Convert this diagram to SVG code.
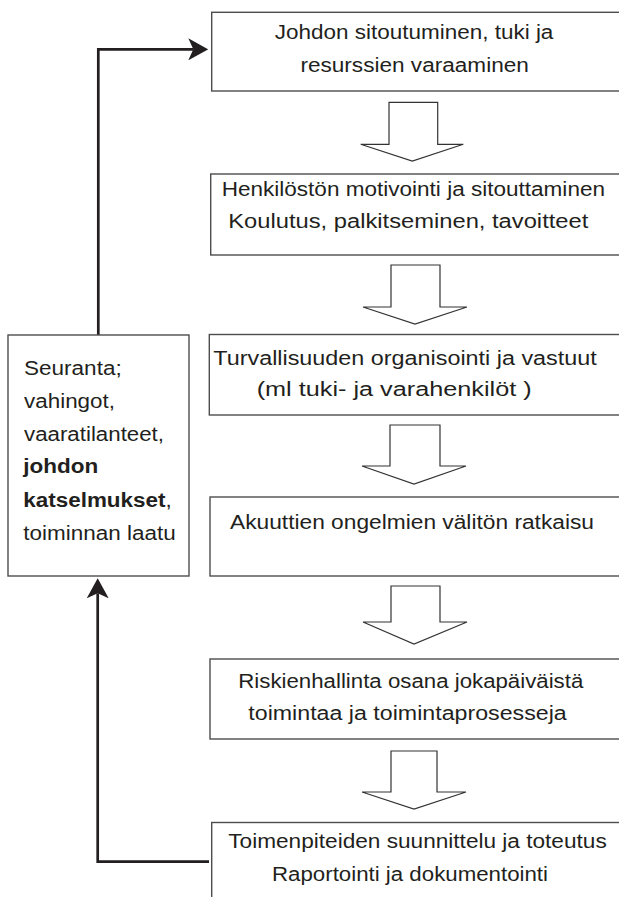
<svg xmlns="http://www.w3.org/2000/svg" width="619" height="897" viewBox="0 0 619 897">
<style>
.box{fill:#fff;stroke:#4d4d4d;stroke-width:1.4}
.harrow{fill:#fff;stroke:#333;stroke-width:1.2;stroke-linejoin:miter}
.conn{fill:none;stroke:#231f20;stroke-width:2.7}
text{font-family:"Liberation Sans",Arial,sans-serif;font-size:20px;fill:#231f20}
.b{font-weight:bold}
</style>
<defs>
<marker id="ah" viewBox="0 0 20 22" refX="5" refY="11" markerWidth="20" markerHeight="22" markerUnits="userSpaceOnUse" orient="auto">
<path d="M0,0 L20,11 L0,22 L5,11 z" fill="#231f20"/>
</marker>
</defs>
<rect width="619" height="897" fill="#fff"/>
<g id="connectors">
<path class="conn" d="M98.3,335 V49.3 H193.3" marker-end="url(#ah)"/>
<path class="conn" d="M209,861.7 H97.7 V593.3" marker-end="url(#ah)"/>
<path class="harrow" d="M389,102.3 H437.7 V144.3 H463.3 L412.3,161 L360.7,144.3 H389 Z"/>
<path class="harrow" d="M391,265 H440 V307 H467 L415,324 L363,307 H391 Z"/>
<path class="harrow" d="M390,425 H440 V466 H466 L414,484 L362,466 H390 Z"/>
<path class="harrow" d="M391,586 H440 V622 H467 L414,644 L363,622 H391 Z"/>
<path class="harrow" d="M391,751 H437 V792 H466 L414,809 L362,792 H391 Z"/>
</g>
<g id="n1">
<rect class="box" x="211.7" y="12.3" width="412" height="78.7"/>
<text x="274.7" y="39.3" textLength="278.7" lengthAdjust="spacingAndGlyphs">Johdon sitoutuminen, tuki ja</text>
<text x="300.4" y="71.5" textLength="228.5" lengthAdjust="spacingAndGlyphs">resurssien varaaminen</text>
</g>
<g id="n2">
<rect class="box" x="210.7" y="174" width="413" height="81"/>
<text x="221.7" y="196" textLength="383.3" lengthAdjust="spacingAndGlyphs">Henkilöstön motivointi ja sitouttaminen</text>
<text x="228.3" y="228.3" textLength="360" lengthAdjust="spacingAndGlyphs">Koulutus, palkitseminen, tavoitteet</text>
</g>
<g id="n3">
<rect class="box" x="209.3" y="334.5" width="414" height="80.5"/>
<text x="213.3" y="365" textLength="383.4" lengthAdjust="spacingAndGlyphs">Turvallisuuden organisointi ja vastuut</text>
<text x="256.7" y="395.5" textLength="275" lengthAdjust="spacingAndGlyphs">(ml tuki- ja varahenkilöt )</text>
</g>
<g id="n4">
<rect class="box" x="210" y="497" width="414" height="79"/>
<text x="230" y="529" textLength="364" lengthAdjust="spacingAndGlyphs">Akuuttien ongelmien välitön ratkaisu</text>
</g>
<g id="n5">
<rect class="box" x="210" y="659" width="414" height="80"/>
<text x="238.3" y="688" textLength="345" lengthAdjust="spacingAndGlyphs">Riskienhallinta osana jokapäiväistä</text>
<text x="248.3" y="720" textLength="318.4" lengthAdjust="spacingAndGlyphs">toimintaa ja toimintaprosesseja</text>
</g>
<g id="n6">
<rect class="box" x="211.7" y="822.5" width="412" height="90"/>
<text x="228.3" y="848" textLength="378.4" lengthAdjust="spacingAndGlyphs">Toimenpiteiden suunnittelu ja toteutus</text>
<text x="272" y="880.5" textLength="276" lengthAdjust="spacingAndGlyphs">Raportointi ja dokumentointi</text>
</g>
<g id="n7">
<rect class="box" x="8" y="335" width="181" height="241"/>
<text x="24" y="375" textLength="97.7" lengthAdjust="spacingAndGlyphs">Seuranta;</text>
<text x="24" y="408" textLength="91" lengthAdjust="spacingAndGlyphs">vahingot,</text>
<text x="24" y="440.7" textLength="140" lengthAdjust="spacingAndGlyphs">vaaratilanteet,</text>
<text x="23.3" y="473.3" class="b" textLength="75" lengthAdjust="spacingAndGlyphs">johdon</text>
<text x="23.3" y="506.7" textLength="148.4" lengthAdjust="spacingAndGlyphs"><tspan class="b">katselmukset</tspan>,</text>
<text x="23.3" y="540" textLength="152.4" lengthAdjust="spacingAndGlyphs">toiminnan laatu</text>
</g>
</svg>
